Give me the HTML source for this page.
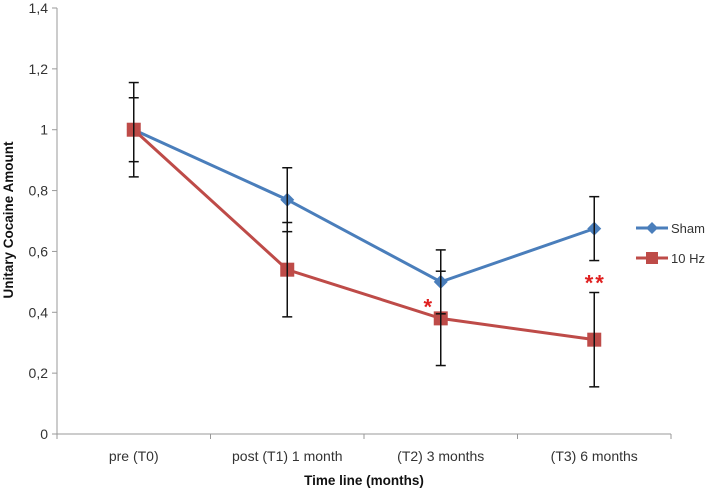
<!DOCTYPE html>
<html><head><meta charset="utf-8"><style>
body{margin:0;background:#fff;font-family:"Liberation Sans",sans-serif}
svg text{font-family:"Liberation Sans",sans-serif}
</style></head><body>
<svg id="c" width="708" height="490"></svg>
<script>
const categories=["pre (T0)","post (T1)  1 month","(T2) 3 months","(T3) 6 months"];
const shamValues=[1,0.77,0.50,0.675];
const shamErr=[0.155,0.105,0.105,0.105];
const hzValues=[1,0.54,0.38,0.31];
const hzErr=[0.105,0.155,0.155,0.155];
const yTicks=[0,0.2,0.4,0.6,0.8,1,1.2,1.4];
const yTickLabels=["0","0,2","0,4","0,6","0,8","1","1,2","1,4"];
const stars=[null,null,"*","**"];
const NS="http://www.w3.org/2000/svg";
const svg=document.getElementById('c');
const L=57,R=671,T=8,B=434;
const y=v=>B-(v/1.4)*(B-T);
const step=(R-L)/categories.length;
const x=i=>L+step*(i+0.5);
function mk(tag,a,txt){const e=document.createElementNS(NS,tag);for(const k in a)e.setAttribute(k,a[k]);if(txt!=null)e.textContent=txt;svg.appendChild(e);return e;}
let e;
e=mk('line',{x1:L,y1:T,x2:L,y2:B,stroke:'#999'});


e=mk('line',{x1:L,y1:B,x2:R,y2:B,stroke:'#999'});


yTicks.forEach((t,i)=>{
 mk('line',{x1:L-5,y1:y(t),x2:L,y2:y(t),stroke:'#999'});
 e=mk('text',{x:L-9,y:y(t)+5,'text-anchor':'end','font-size':14,fill:'#333'},yTickLabels[i]);
 
 
});
for(let i=0;i<=categories.length;i++)mk('line',{x1:L+step*i,y1:B,x2:L+step*i,y2:B+5,stroke:'#999'});
categories.forEach((c,i)=>{
 e=mk('text',{x:x(i),y:461,'text-anchor':'middle','font-size':14,fill:'#333'},c);
 
 
});
e=mk('text',{x:364,y:485,'text-anchor':'middle','font-size':13.5,'font-weight':'bold',fill:'#111'},'Time line (months)');


e=mk('text',{x:0,y:0,transform:'translate(13,220) rotate(-90)','text-anchor':'middle','font-size':13.5,'font-weight':'bold',fill:'#111'},'Unitary Cocaine Amount');


function series(vals,errs,col,marker,name){
 mk('polyline',{points:vals.map((v,i)=>x(i)+','+y(v)).join(' '),fill:'none',stroke:col,'stroke-width':3});
 vals.forEach((v,i)=>{
  const cx=x(i),cy=y(v);
  if(marker==='d'){e=mk('polygon',{points:`${cx},${cy-7} ${cx+7},${cy} ${cx},${cy+7} ${cx-7},${cy}`,fill:col});}
  else{e=mk('rect',{x:cx-7,y:cy-7,width:14,height:14,fill:col});}
  
  
 });
}
function errbars(vals,errs,name){
 vals.forEach((v,i)=>{
  const cx=x(i)+0;
  const g=[['line',{x1:cx,y1:y(v+errs[i]),x2:cx,y2:y(v-errs[i]),stroke:'#111','stroke-width':1.5}],
   ['line',{x1:cx-5,y1:y(v+errs[i]),x2:cx+5,y2:y(v+errs[i]),stroke:'#111','stroke-width':1.5}],
   ['line',{x1:cx-5,y1:y(v-errs[i]),x2:cx+5,y2:y(v-errs[i]),stroke:'#111','stroke-width':1.5}]];
  g.forEach(a=>{e=mk(a[0],a[1]);});
 });
}
series(shamValues,shamErr,'#4a7ebb','d','sham');
series(hzValues,hzErr,'#be4b48','s','hz10');
errbars(shamValues,shamErr,'sham');
errbars(hzValues,hzErr,'hz10');
stars.forEach((s,i)=>{if(!s)return;
 const single=s.length===1;
 const sx=single?x(i)-12:x(i)+1;
 const sy=single?y(hzValues[i])-4:y(hzValues[i]+hzErr[i])-2;
 e=mk('text',{x:sx,y:sy,'text-anchor':'middle','font-size':22,'font-weight':'bold',fill:'#e02020','letter-spacing':2},s);
 
 
});
e=mk('line',{x1:636,y1:228,x2:668,y2:228,stroke:'#4a7ebb','stroke-width':3});


mk('polygon',{points:'652,222 658,228 652,234 646,228',fill:'#4a7ebb'});
e=mk('text',{x:671,y:233,'font-size':13,fill:'#333'},'Sham');


e=mk('line',{x1:636,y1:258,x2:668,y2:258,stroke:'#be4b48','stroke-width':3});


mk('rect',{x:646,y:252,width:12,height:12,fill:'#be4b48'});
e=mk('text',{x:671,y:263,'font-size':13,fill:'#333'},'10 Hz');


</script>
</body></html>
